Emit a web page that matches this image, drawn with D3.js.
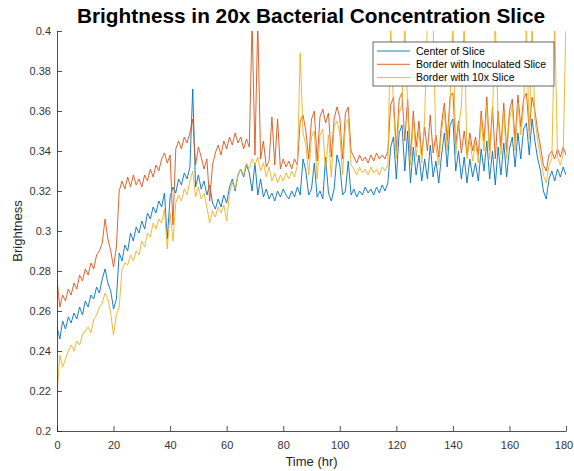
<!DOCTYPE html>
<html>
<head>
<meta charset="utf-8">
<script src="https://cdn.jsdelivr.net/npm/d3@7"></script>
<style>
  html, body { margin: 0; padding: 0; background: #fff; }
  svg { display: block; font-family: "Liberation Sans", Arial, Helvetica, sans-serif; }
</style>
</head>
<body>
<svg id="chart" width="574" height="471"></svg>
<script>
// ---- data, one value per hour ----
const hours = d3.range(0, 181, 1);

const centerOfSlice = [
0.252,0.246,0.255,0.251,0.257,0.254,0.259,0.256,0.262,0.258,
0.265,0.262,0.268,0.266,0.272,0.269,0.276,0.281,0.274,0.270,
0.261,0.266,0.289,0.285,0.293,0.290,0.299,0.295,0.302,0.299,
0.305,0.301,0.309,0.306,0.312,0.309,0.315,0.312,0.319,0.296,
0.317,0.322,0.319,0.326,0.323,0.329,0.326,0.332,0.371,0.322,
0.328,0.321,0.325,0.318,0.323,0.314,0.311,0.316,0.312,0.318,
0.314,0.322,0.326,0.320,0.328,0.331,0.327,0.333,0.329,0.320,
0.334,0.318,0.326,0.317,0.321,0.316,0.319,0.315,0.320,0.317,
0.321,0.318,0.316,0.320,0.317,0.322,0.318,0.336,0.330,0.318,
0.321,0.334,0.317,0.320,0.316,0.337,0.319,0.315,0.321,0.338,
0.333,0.318,0.320,0.335,0.318,0.321,0.317,0.320,0.318,0.322,
0.319,0.321,0.318,0.322,0.319,0.323,0.320,0.324,0.342,0.347,
0.326,0.349,0.353,0.330,0.350,0.324,0.342,0.328,0.338,0.325,
0.336,0.326,0.343,0.327,0.335,0.324,0.338,0.349,0.332,0.353,
0.356,0.330,0.340,0.326,0.337,0.324,0.336,0.327,0.334,0.325,
0.341,0.330,0.345,0.326,0.340,0.323,0.342,0.328,0.344,0.327,
0.341,0.347,0.332,0.349,0.336,0.351,0.354,0.338,0.356,0.345,
0.336,0.330,0.320,0.316,0.326,0.330,0.325,0.331,0.327,0.332,
0.328];

const borderInoculated = [
0.276,0.262,0.268,0.265,0.271,0.268,0.274,0.271,0.278,0.275,
0.281,0.278,0.284,0.281,0.288,0.290,0.294,0.306,0.296,0.290,
0.282,0.292,0.320,0.325,0.321,0.327,0.322,0.328,0.323,0.326,
0.322,0.328,0.325,0.331,0.327,0.333,0.330,0.336,0.339,0.334,
0.338,0.303,0.341,0.345,0.341,0.347,0.344,0.349,0.356,0.333,
0.342,0.337,0.331,0.336,0.315,0.333,0.339,0.343,0.338,0.345,
0.341,0.347,0.343,0.349,0.344,0.347,0.341,0.346,0.342,0.405,
0.338,0.405,0.336,0.345,0.332,0.335,0.357,0.333,0.356,0.331,
0.336,0.332,0.335,0.331,0.336,0.333,0.355,0.358,0.350,0.336,
0.356,0.360,0.335,0.357,0.361,0.354,0.359,0.337,0.356,0.362,
0.357,0.336,0.359,0.362,0.340,0.337,0.334,0.338,0.335,0.337,
0.334,0.338,0.335,0.339,0.336,0.338,0.336,0.340,0.363,0.367,
0.340,0.366,0.369,0.345,0.366,0.337,0.360,0.342,0.355,0.338,
0.352,0.340,0.358,0.339,0.348,0.337,0.354,0.364,0.345,0.367,
0.369,0.343,0.355,0.339,0.350,0.338,0.349,0.340,0.347,0.338,
0.360,0.345,0.367,0.340,0.362,0.336,0.360,0.342,0.364,0.340,
0.360,0.366,0.345,0.368,0.352,0.366,0.369,0.350,0.367,0.360,
0.350,0.342,0.333,0.330,0.338,0.340,0.336,0.341,0.337,0.342,
0.338];

const border10x = [
0.218,0.238,0.232,0.236,0.240,0.243,0.240,0.245,0.243,0.248,
0.250,0.252,0.249,0.256,0.258,0.262,0.264,0.269,0.266,0.259,
0.248,0.258,0.262,0.281,0.284,0.283,0.288,0.285,0.290,0.288,
0.295,0.292,0.299,0.297,0.304,0.301,0.306,0.304,0.311,0.291,
0.309,0.295,0.314,0.318,0.315,0.321,0.318,0.325,0.330,0.317,
0.322,0.316,0.319,0.312,0.304,0.310,0.307,0.312,0.309,0.313,
0.305,0.319,0.324,0.321,0.328,0.331,0.328,0.334,0.331,0.336,
0.333,0.337,0.330,0.334,0.327,0.332,0.325,0.329,0.324,0.328,
0.325,0.329,0.326,0.330,0.327,0.333,0.389,0.349,0.343,0.328,
0.347,0.350,0.326,0.348,0.351,0.330,0.348,0.327,0.352,0.355,
0.349,0.328,0.353,0.356,0.333,0.331,0.328,0.332,0.329,0.331,
0.328,0.332,0.329,0.331,0.328,0.332,0.330,0.333,0.405,0.361,
0.336,0.359,0.363,0.405,0.361,0.333,0.355,0.337,0.350,0.334,
0.356,0.405,0.405,0.405,0.342,0.333,0.350,0.360,0.340,0.363,
0.405,0.338,0.352,0.362,0.405,0.336,0.346,0.335,0.344,0.334,
0.356,0.340,0.363,0.336,0.358,0.405,0.356,0.338,0.360,0.336,
0.356,0.362,0.340,0.364,0.348,0.362,0.405,0.346,0.405,0.356,
0.345,0.337,0.328,0.324,0.333,0.336,0.405,0.337,0.333,0.338,
0.405];

const seriesNames = ["Center of Slice", "Border with Inoculated Slice", "Border with 10x Slice"];
const seriesColors = ["#0072BD", "#D95319", "#EDB120"];
const xTicks = [0, 20, 40, 60, 80, 100, 120, 140, 160, 180];
const yTicks = [0.2, 0.22, 0.24, 0.26, 0.28, 0.3, 0.32, 0.34, 0.36, 0.38, 0.4];

// ---- layout ----
const svg = d3.select("#chart");
const pLeft = 57, pRight = 566, pTop = 31, pBottom = 431;
const x = d3.scaleLinear().domain([0, 180]).range([pLeft, pRight]);
const y = d3.scaleLinear().domain([0.2, 0.4]).range([pBottom, pTop]);

svg.append("defs").append("clipPath").attr("id", "plotclip")
  .append("rect").attr("x", pLeft).attr("y", pTop)
  .attr("width", pRight - pLeft).attr("height", pBottom - pTop);

// series lines
const allSeries = [centerOfSlice, borderInoculated, border10x];
const line = d3.line().x((d, i) => x(hours[i])).y(d => y(d));
const plot = svg.append("g").attr("clip-path", "url(#plotclip)");
allSeries.forEach((vals, k) => {
  plot.append("path")
    .datum(vals)
    .attr("fill", "none")
    .attr("stroke", seriesColors[k])
    .attr("stroke-width", 0.9)
    .attr("stroke-linejoin", "round")
    .attr("d", line);
});

const axisColor = "#262626";
const fmt = v => String(+v.toFixed(2));

// x axis (ticks point inward)
const xAxis = svg.append("g").attr("transform", `translate(0,${pBottom})`)
  .call(d3.axisBottom(x).tickValues(xTicks).tickFormat(fmt).tickSizeInner(-5).tickSizeOuter(0).tickPadding(10));
// y axis
const yAxis = svg.append("g").attr("transform", `translate(${pLeft},0)`)
  .call(d3.axisLeft(y).tickValues(yTicks).tickFormat(fmt).tickSizeInner(-5).tickSizeOuter(0).tickPadding(6));

[xAxis, yAxis].forEach(g => {
  g.select(".domain").attr("stroke", axisColor).attr("stroke-width", 0.8);
  g.selectAll(".tick line").attr("stroke", axisColor).attr("stroke-width", 0.8);
  g.selectAll(".tick text").attr("fill", "#333").attr("font-size", 11)
    .attr("font-family", "'Liberation Sans', Arial, Helvetica, sans-serif");
});
// keep the last x label inside the window
xAxis.selectAll(".tick text").filter(d => d === 180).attr("dx", -2.5);

// title
svg.append("text")
  .attr("x", 311).attr("y", 23)
  .attr("text-anchor", "middle")
  .attr("font-size", 20.8).attr("font-weight", "bold").attr("fill", "#000")
  .text("Brightness in 20x Bacterial Concentration Slice");

// axis labels
svg.append("text")
  .attr("x", (pLeft + pRight) / 2).attr("y", 466)
  .attr("text-anchor", "middle").attr("font-size", 13).attr("fill", "#262626")
  .text("Time (hr)");
svg.append("text")
  .attr("transform", `translate(22,${(pTop + pBottom) / 2}) rotate(-90)`)
  .attr("text-anchor", "middle").attr("font-size", 13).attr("fill", "#262626")
  .text("Brightness");

// legend
const lg = svg.append("g");
lg.append("rect").attr("x", 373).attr("y", 42).attr("width", 181).attr("height", 44)
  .attr("fill", "#fff").attr("stroke", axisColor).attr("stroke-width", 0.7);
seriesNames.forEach((name, k) => {
  const ly = 51 + k * 13.3;
  lg.append("line").attr("x1", 377).attr("x2", 410).attr("y1", ly).attr("y2", ly)
    .attr("stroke", seriesColors[k]).attr("stroke-width", 0.9);
  lg.append("text").attr("x", 416).attr("y", ly + 3.7)
    .attr("font-size", 10.5).attr("fill", "#000").text(name);
});
</script>
</body>
</html>
